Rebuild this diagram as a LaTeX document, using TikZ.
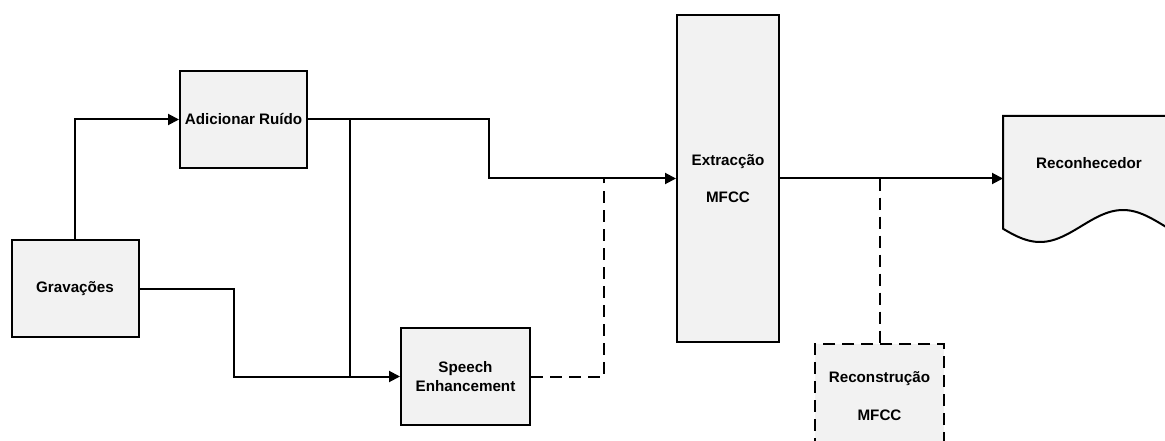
\documentclass[tikz,border=0pt]{standalone}
\usepackage{fontspec}
\setmainfont{Liberation Sans}
\usetikzlibrary{arrows.meta}
\definecolor{boxfill}{HTML}{F2F2F2}
\tikzset{
  block/.style={draw=black, fill=boxfill, line width=2pt, minimum width=127pt,
    minimum height=97pt, inner sep=0pt, align=center,
    font=\fontsize{15.2}{18.5}\selectfont\bfseries},
  link/.style={line width=2pt},
  arrowlink/.style={link, -{Triangle[length=11pt,width=11pt]}},
  dashlink/.style={link, dash pattern=on 12pt off 7pt},
  lbl/.style={inner sep=0pt, align=center, font=\fontsize{15.2}{18.5}\selectfont\bfseries}
}
\begin{document}
\begin{tikzpicture}[x=1pt, y=-1pt]
\useasboundingbox (0,0) rectangle (1165,441);

% processing blocks
\node[block] (grav) at (75,288.5) {Gravações};
\node[block] (ruido) at (243.5,119.5) {Adicionar Ruído};
\node[block, minimum width=129pt] (se) at (465.5,376.5) {Speech\\Enhancement};
\node[block, minimum width=102pt, minimum height=327pt] (extr) at (728,178.5)
  {Extracção\\[18pt]MFCC};
\node[block, dashlink, minimum width=129pt, minimum height=104pt] (recon) at (879.5,396)
  {};
\node[lbl] (recontxt) at (879.5,396) {Reconstrução\\[19pt]MFCC};

% recogniser: document shape with wavy bottom
\draw[line width=2pt, fill=boxfill]
  (1175,116) -- (1003,116) -- (1003,228)
  -- plot[domain=1003:1175, samples=60] (\x, {226-16*cos((\x-1123)/83*180)})
  -- cycle;
\coordinate (recin) at (1003,178.5);
\node[lbl] (recog) at (1089,163) {Reconhecedor};

% branch points
\coordinate (ja) at (350,119.5);
\coordinate (jb) at (350,376.5);
\coordinate (jc) at (604,178.5);
\coordinate (jd) at (879.5,178.5);

% connectors
\draw[arrowlink] (grav.north) |- (ruido.west);
\draw[arrowlink] (grav.east) -- ++(94,0) |- (se.west);
\draw[arrowlink] (ruido.east) -- ++(181,0) |- (extr.west);
\draw[link] (ja) -- (jb);
\draw[dashlink] (se.east) -| (jc);
\draw[arrowlink] (extr.east) -- (recin);
\draw[dashlink] (jd) -- (recon.north);
\end{tikzpicture}
\end{document}
